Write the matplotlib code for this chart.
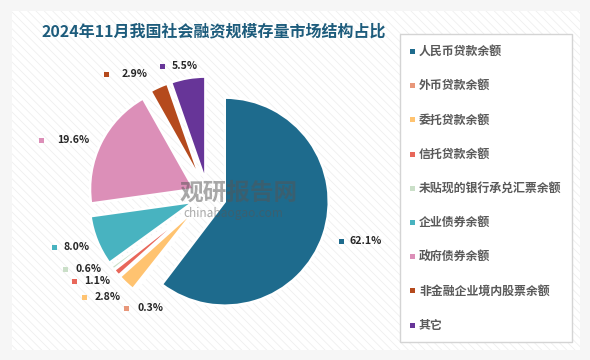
import matplotlib
matplotlib.use("Agg")
import matplotlib.pyplot as plt
from matplotlib.patches import Rectangle

plt.rcParams['font.family'] = ['Noto Sans CJK SC', 'DejaVu Sans']
plt.rcParams['hatch.linewidth'] = 0.6

# ---------------- data ----------------
title = "2024年11月我国社会融资规模存量市场结构占比"
categories = ["人民币贷款余额", "外币贷款余额", "委托贷款余额", "信托贷款余额",
              "未贴现的银行承兑汇票余额", "企业债券余额", "政府债券余额",
              "非金融企业境内股票余额", "其它"]
shares = [62.1, 0.3, 2.8, 1.1, 0.6, 8.0, 19.6, 2.9, 5.5]
label_texts = ["62.1%", "0.3%", "2.8%", "1.1%", "0.6%", "8.0%", "19.6%", "2.9%", "5.5%"]

# ---------------- style / layout ----------------
colors = ["#1e6b8d", "#e8977a", "#ffc370", "#e8675a", "#cadfc8",
          "#48b3c0", "#dc8fb8", "#b54a1d", "#673598"]
R = 104
explode = [0.17 * R, 0.15 * R, 0.15 * R, 0.15 * R, 0.15 * R,
           0.15 * R, 0.15 * R, 0.15 * R, 0.15 * R]
# label anchor (marker x, y) and text start x, in pixel coords (y from top)
label_marker = [(341, 241), (126, 308), (84, 297), (74, 281), (65, 269),
                (54, 247), (41, 140), (106, 74), (162, 66)]
label_textx = [350, 137, 95, 84, 75, 64, 57, 122, 172]

W, H = 590, 360
fig = plt.figure(figsize=(W / 100, H / 100), dpi=100)
fig.patch.set_facecolor("#f6f6f6")
ax = fig.add_axes([0, 0, 1, 1])

# panel background
ax.add_patch(Rectangle((12, H - 350), 568, 339, facecolor="white", edgecolor="none", zorder=0))
ax.add_patch(Rectangle((12, H - 350), 568, 339, facecolor="none", edgecolor="#efefef",
                       hatch="\\\\\\\\", linewidth=0, zorder=0.1))

wedges, _ = ax.pie(shares, colors=colors, startangle=90, counterclock=False,
                   explode=explode, radius=R, center=(208, H - 196),
                   wedgeprops=dict(edgecolor="white", linewidth=1.8),
                   frame=True)
ax.set_xlim(0, W)
ax.set_ylim(0, H)
ax.set_aspect("equal")
ax.axis("off")

# data labels
for (mx, my), tx, txt, c in zip(label_marker, label_textx, label_texts, colors):
    ax.add_patch(Rectangle((mx - 2.5, H - my - 2.5), 5, 5, facecolor=c, edgecolor="none", zorder=5))
    ax.text(tx, H - my, txt, fontsize=7.6, fontweight="bold", color="#262626",
            va="center", ha="left", zorder=5)

# watermark
ax.text(180, H - 193, "观研报告网", fontsize=17, fontweight="bold", color="#555555",
        alpha=0.5, va="center", ha="left", zorder=6)
ax.text(183, H - 213, "chinabaogao.com", fontsize=8.5, color="#555555",
        alpha=0.5, va="center", ha="left", zorder=6)

# title
ax.text(42, H - 31, title, fontsize=11.5, fontweight="bold", color="#1d5c7c",
        va="center", ha="left")

# legend
ax.add_patch(Rectangle((400, H - 342), 172, 308, facecolor="white", edgecolor="#d4d4d4",
                       linewidth=1, zorder=2))
for i, (cat, c) in enumerate(zip(categories, colors)):
    y = 51.5 + i * 34.2
    ax.add_patch(Rectangle((410, H - y - 2.5), 5, 5, facecolor=c, edgecolor="none", zorder=3))
    ax.text(419, H - y, cat, fontsize=8.6, fontweight="bold", color="#595959",
            va="center", ha="left", zorder=3)

fig.savefig("out.png", dpi=100, facecolor=fig.get_facecolor())
